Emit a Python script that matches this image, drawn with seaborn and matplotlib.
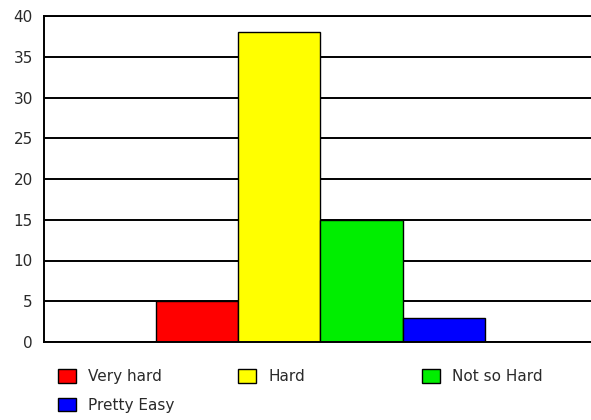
import matplotlib
matplotlib.use("Agg")
import matplotlib.pyplot as plt
import matplotlib.patches as mpatches
import seaborn as sns
import pandas as pd

categories = ["Very hard", "Hard", "Not so Hard", "Pretty Easy"]
values = [5, 38, 15, 3]
colors = ["#ff0000", "#ffff00", "#00ee00", "#0000ff"]
y_ticks = [0, 5, 10, 15, 20, 25, 30, 35, 40]

sns.set_style("white")
plt.rcParams["font.family"] = ["DejaVu Sans"]

df = pd.DataFrame({"answer": categories, "count": values})

fig = plt.figure(figsize=(5.91, 4.2), dpi=100)
ax = fig.add_axes([44 / 591, 78 / 420, 1 - 44 / 591, 326 / 420])

sns.barplot(data=df, x="answer", y="count", hue="answer", palette=colors,
            width=1.0, dodge=False, legend=False, edgecolor="black",
            linewidth=1.0, saturation=1, ax=ax)

ax.set_xlim(-1.86, 4.79)
ax.set_ylim(0, 40)
ax.set_yticks(y_ticks)
ax.set_xticks([])
ax.set_xlabel("")
ax.set_ylabel("")
ax.yaxis.grid(True, color="black", linewidth=1.4)
ax.set_axisbelow(True)
ax.tick_params(axis="y", length=0, pad=8, labelsize=11, labelcolor="#2a2a2a")
for side in ["left", "top", "bottom"]:
    ax.spines[side].set_visible(True)
    ax.spines[side].set_color("black")
    ax.spines[side].set_linewidth(1.4)
ax.spines["right"].set_visible(False)

# legend laid out in three columns under the plot
columns = [[0, 3], [1], [2]]
col_x = [58 / 591, 238 / 591, 422 / 591]
for cx, idx in zip(col_x, columns):
    handles = [mpatches.Patch(facecolor=colors[i], edgecolor="black",
                              linewidth=1.0, label=categories[i]) for i in idx]
    fig.legend(handles=handles, loc="upper left", bbox_to_anchor=(cx, 51 / 420),
               frameon=False, fontsize=11, handlelength=1.18, handleheight=1.0,
               handletextpad=0.8, labelspacing=0.9, borderaxespad=0,
               borderpad=0, labelcolor="#2a2a2a")

fig.savefig("out.png", dpi=100)
